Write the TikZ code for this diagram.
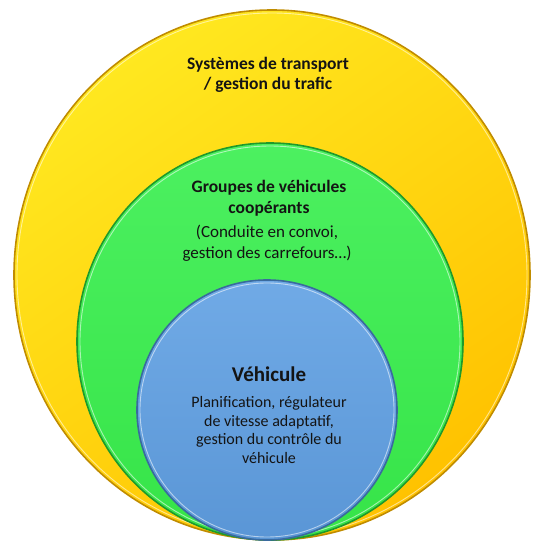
\documentclass[tikz,border=0pt]{standalone}
\usepackage{fontspec}
\setmainfont{Carlito}
\usetikzlibrary{shapes.geometric}
\definecolor{yelA}{HTML}{FFE820}
\definecolor{yelB}{HTML}{FFC200}
\definecolor{yelE}{HTML}{C08C00}
\definecolor{grnA}{HTML}{4CF060}
\definecolor{grnB}{HTML}{36E448}
\definecolor{grnE}{HTML}{1E9A2C}
\definecolor{bluA}{HTML}{70AAE6}
\definecolor{bluB}{HTML}{5A96D6}
\definecolor{bluE}{HTML}{3A6A9E}
\definecolor{txt}{HTML}{141414}
\tikzset{
  ring/.style={ellipse, inner sep=0pt, line width=1.6pt},
  hilite/.style={ellipse, inner sep=0pt, draw=white, draw opacity=0.55, line width=0.9pt},
  ttl/.style={font=\bfseries\fontsize{17.5}{20.5}\selectfont, text=txt, align=center},
  body/.style={font=\fontsize{17}{20.5}\selectfont, text=txt, align=center},
}
\begin{document}
\begin{tikzpicture}[x=1pt,y=1pt]
\useasboundingbox (0,0) rectangle (533,542);
% outer yellow
\node[ring, minimum width=516pt, minimum height=530pt, top color=yelA, bottom color=yelB, shading angle=35, draw=yelE] (sys) at (272,267) {};
\node[hilite, minimum width=510pt, minimum height=524pt] (sysh) at (272,267) {};
% green
\node[ring, minimum width=386pt, minimum height=397pt, top color=grnA, bottom color=grnB, draw=grnE] (grp) at (270,200.5) {};
\node[hilite, minimum width=380pt, minimum height=391pt] (grph) at (270,200.5) {};
% blue
\node[ring, minimum width=260pt, minimum height=260pt, top color=bluA, bottom color=bluB, draw=bluE] (veh) at (267,132) {};
\node[hilite, minimum width=254pt, minimum height=254pt] (vehh) at (267,132) {};
% texts
\node[ttl] (t1) at (268,467) {Systèmes de transport\\/ gestion du trafic};
\node[ttl] (t2) at (269,344) {Groupes de véhicules\\coopérants};
\node[body] (b2) at (267,299) {(Conduite en convoi,\\gestion des carrefours…)};
\node[ttl, font=\bfseries\fontsize{21}{24}\selectfont] (t3) at (269,168) {Véhicule};
\node[body, font=\fontsize{16}{18.5}\selectfont] (b3) at (269,112) {Planification, régulateur\\de vitesse adaptatif,\\gestion du contrôle du\\véhicule};
\end{tikzpicture}
\end{document}
